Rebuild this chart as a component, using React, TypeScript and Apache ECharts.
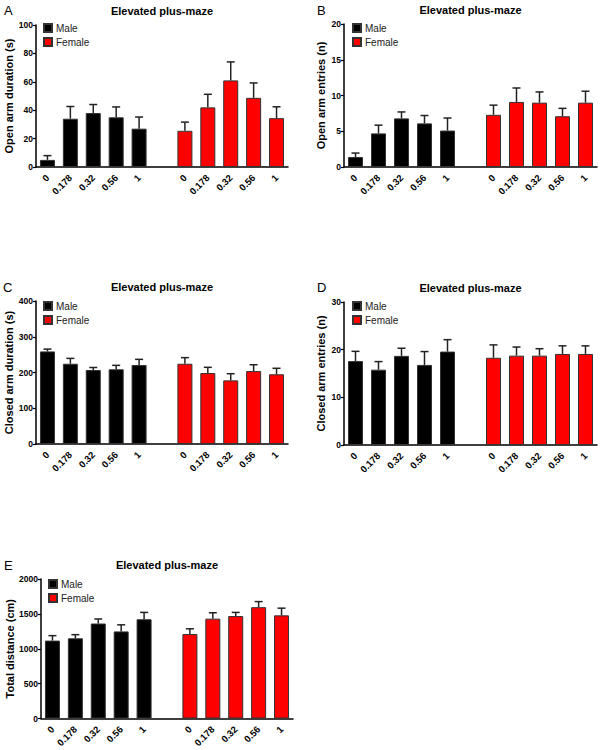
import React, { useEffect, useRef } from "react";
import * as echarts from "echarts";

const doses = ["0", "0.178", "0.32", "0.56", "1"];
const categories = [...doses, "", ...doses];

const maleOpenDur = [5, 34, 38, 35, 27];
const maleOpenDurSem = [3, 8.6, 6, 7.3, 8.2];
const femaleOpenDur = [25.5, 42, 61, 48.7, 34.4];
const femaleOpenDurSem = [6.1, 9.2, 13, 10.5, 8];

const maleOpenEnt = [1.4, 4.7, 6.8, 6.1, 5.1];
const maleOpenEntSem = [0.55, 1.15, 0.9, 1.1, 1.75];
const femaleOpenEnt = [7.3, 9.1, 9.0, 7.1, 9.0];
const femaleOpenEntSem = [1.35, 1.95, 1.5, 1.1, 1.6];

const maleClosedDur = [259, 224.5, 207, 209, 221];
const maleClosedDurSem = [6.5, 15, 7, 11, 15.8];
const femaleClosedDur = [224.5, 198.5, 178, 204, 195];
const femaleClosedDurSem = [17, 16, 18.6, 17.7, 16.8];

const maleClosedEnt = [17.6, 15.8, 18.7, 16.8, 19.6];
const maleClosedEntSem = [2.05, 1.7, 1.6, 2.8, 2.5];
const femaleClosedEnt = [18.3, 18.75, 18.75, 19.1, 19.1];
const femaleClosedEntSem = [2.7, 1.8, 1.45, 1.7, 1.7];

const maleDistance = [1117, 1150, 1362, 1249, 1423];
const maleDistanceSem = [71, 52, 65, 94, 98];
const femaleDistance = [1211, 1432, 1469, 1596, 1479];
const femaleDistanceSem = [75, 84, 52, 80, 103];

const panelLetters = ["A", "B", "C", "D", "E"];
const yNames = [
  "Open arm duration (s)",
  "Open arm entries (n)",
  "Closed arm duration (s)",
  "Closed arm entries (n)",
  "Total distance (cm)",
];
const yMax = [100, 20, 400, 30, 2000];
const yInterval = [20, 5, 100, 10, 500];
const titleText = "Elevated plus-maze";

const FONT = "'Liberation Sans', Arial, sans-serif";

const layout = [
  { left: 36, top: 25, width: 252, height: 142, letterX: 4, letterY: 10, legL: 43, legT: 23, nameGap: 21 },
  { left: 344, top: 24, width: 253, height: 143, letterX: 317, letterY: 10, legL: 352, legT: 23, nameGap: 18 },
  { left: 36, top: 301, width: 252, height: 143, letterX: 3, letterY: 287, legL: 43, legT: 301, nameGap: 21 },
  { left: 344, top: 302, width: 253, height: 143, letterX: 317, letterY: 287, legL: 352, legT: 301, nameGap: 18 },
  { left: 41, top: 579, width: 252, height: 142, letterX: 4, letterY: 565, legL: 48, legT: 579, nameGap: 26 },
];

const panelData = [
  [maleOpenDur, maleOpenDurSem, femaleOpenDur, femaleOpenDurSem],
  [maleOpenEnt, maleOpenEntSem, femaleOpenEnt, femaleOpenEntSem],
  [maleClosedDur, maleClosedDurSem, femaleClosedDur, femaleClosedDurSem],
  [maleClosedEnt, maleClosedEntSem, femaleClosedEnt, femaleClosedEntSem],
  [maleDistance, maleDistanceSem, femaleDistance, femaleDistanceSem],
];

function buildOption() {
  const grid: any[] = [];
  const xAxis: any[] = [];
  const yAxis: any[] = [];
  const series: any[] = [];
  const legend: any[] = [];
  const graphic: any[] = [];

  panelData.forEach((pd, i) => {
    const L = layout[i];
    const [m, ms, f, fs] = pd;
    grid.push({ left: L.left, top: L.top, width: L.width, height: L.height, containLabel: false });
    xAxis.push({
      type: "category",
      gridIndex: i,
      data: categories,
      axisLine: { lineStyle: { color: "#000", width: 1.5 } },
      axisTick: { show: false },
      axisLabel: {
        interval: 0,
        rotate: 45,
        margin: 9,
        fontSize: 9.5,
        fontWeight: "bold",
        color: "#000",
        fontFamily: FONT,
      },
    });
    yAxis.push({
      type: "value",
      gridIndex: i,
      min: 0,
      max: yMax[i],
      interval: yInterval[i],
      name: yNames[i],
      nameLocation: "middle",
      nameGap: L.nameGap,
      nameTextStyle: { fontSize: 11, fontWeight: "bold", color: "#000", fontFamily: FONT },
      axisLine: { show: true, lineStyle: { color: "#000", width: 1.5 } },
      axisTick: { show: true, length: 3, lineStyle: { color: "#000", width: 1.2 } },
      splitLine: { show: false },
      axisLabel: {
        fontSize: 8.5,
        fontWeight: "bold",
        color: "#000",
        margin: 3,
        fontFamily: FONT,
        formatter: (v: number) => String(v),
      },
    });
    const blanks = ["-", "-", "-", "-", "-", "-"];
    series.push({
      name: "Male",
      type: "bar",
      xAxisIndex: i,
      yAxisIndex: i,
      barWidth: 15,
      barGap: "-100%",
      data: [...m, ...blanks],
      itemStyle: { color: "#000", borderColor: "#333", borderWidth: 1 },
    });
    series.push({
      name: "Female",
      type: "bar",
      xAxisIndex: i,
      yAxisIndex: i,
      barWidth: 15,
      barGap: "-100%",
      data: [...blanks, ...f],
      itemStyle: { color: "#ff0000", borderColor: "#333", borderWidth: 1 },
    });
    const errData: any[] = [];
    m.forEach((v, k) => errData.push([k, v, ms[k]]));
    f.forEach((v, k) => errData.push([k + 6, v, fs[k]]));
    series.push({
      type: "custom",
      xAxisIndex: i,
      yAxisIndex: i,
      data: errData,
      encode: { x: 0, y: 1 },
      z: 5,
      silent: true,
      renderItem: (params: any, api: any) => {
        const x = api.value(0);
        const mean = api.value(1);
        const sem = api.value(2);
        const p0 = api.coord([x, mean]);
        const p1 = api.coord([x, mean + sem]);
        const st = { stroke: "#222", lineWidth: 1.5 };
        return {
          type: "group",
          children: [
            { type: "line", shape: { x1: p0[0], y1: p0[1], x2: p1[0], y2: p1[1] }, style: st },
            { type: "line", shape: { x1: p1[0] - 4, y1: p1[1], x2: p1[0] + 4, y2: p1[1] }, style: st },
          ],
        };
      },
    });
    legend.push({
      data: ["Male", "Female"],
      left: L.legL,
      top: L.legT,
      orient: "vertical",
      icon: "rect",
      itemWidth: 8,
      itemHeight: 8,
      itemGap: 4,
      padding: 0,
      selectedMode: false,
      textStyle: { fontSize: 10, color: "#222", fontFamily: FONT, padding: [0, 0, 0, -1] },
    });
    graphic.push({
      type: "text",
      x: L.left + L.width / 2,
      y: L.top - 14,
      style: {
        text: titleText,
        font: `bold 11px ${FONT}`,
        fill: "#000",
        textAlign: "center",
        textVerticalAlign: "middle",
        align: "center",
        verticalAlign: "middle",
      },
    });
    graphic.push({
      type: "text",
      x: L.letterX,
      y: L.letterY,
      style: {
        text: panelLetters[i],
        font: `13px ${FONT}`,
        fill: "#000",
        textVerticalAlign: "middle",
        verticalAlign: "middle",
      },
    });
  });

  return {
    animation: false,
    backgroundColor: "#fff",
    grid,
    xAxis,
    yAxis,
    series,
    legend,
    graphic,
  };
}

export default function App() {
  const ref = useRef<HTMLDivElement>(null);
  useEffect(() => {
    if (!ref.current) return;
    const chart = echarts.init(ref.current, undefined, { renderer: "svg" });
    chart.setOption(buildOption());
    return () => chart.dispose();
  }, []);
  return (
    <div
      ref={ref}
      style={{ position: "absolute", left: 0, top: 0, width: 601, height: 750, background: "#fff" }}
    />
  );
}
